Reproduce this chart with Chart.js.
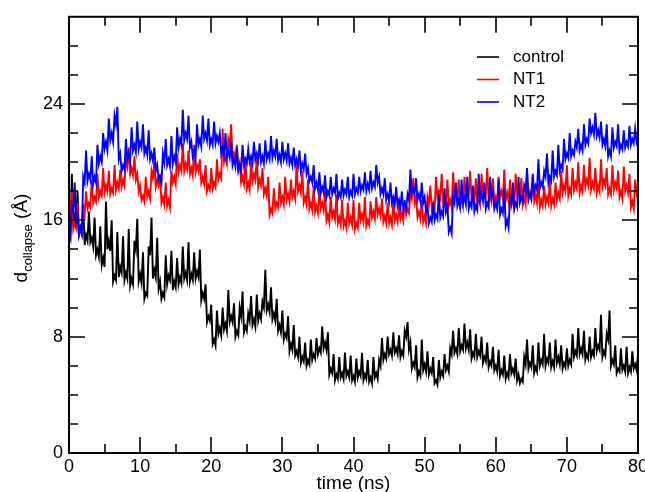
<!DOCTYPE html>
<html>
<head>
<meta charset="utf-8">
<script src="https://cdn.jsdelivr.net/npm/chart.js@4.4.0/dist/chart.umd.min.js"></script>
<style>
  body { margin: 0; background: #fff; }
  #wrap { width: 645px; height: 492px; }
</style>
</head>
<body>
<div id="wrap"><canvas id="myChart" width="645" height="492"></canvas></div>
<script>
// sampled every 0.2 ns, 0 .. 80 ns (one row = 4 ns)
const timeStep = 0.2

const controlValues = [
  15.2, 14.8, 19.2, 15.6, 16.3, 15.9, 18.0, 14.9, 15.5, 15.1, 17.1, 14.3, 15.0, 14.6, 16.6, 14.5, 14.8, 14.2, 16.2, 13.6,
  14.0, 13.5, 15.6, 12.9, 13.4, 12.8, 17.3, 14.0, 14.6, 13.9, 16.0, 11.8, 12.2, 11.9, 15.2, 12.1, 12.8, 12.4, 14.9, 11.9,
  12.4, 12.0, 15.4, 11.5, 12.0, 11.6, 14.6, 14.0, 16.1, 11.8, 12.3, 11.7, 13.8, 10.6, 11.0, 10.8, 14.2, 13.6, 16.2, 12.0,
  12.6, 12.1, 14.8, 11.3, 11.8, 10.6, 11.0, 10.7, 13.6, 11.6, 12.2, 11.9, 13.9, 11.2, 11.8, 11.4, 13.4, 11.6, 12.1, 11.7,
  14.2, 12.0, 12.4, 11.9, 14.5, 11.8, 12.3, 11.9, 13.8, 12.0, 12.5, 12.1, 14.0, 10.5, 11.0, 10.6, 11.6, 9.0, 9.4, 9.1,
  10.2, 7.5, 7.8, 7.4, 9.8, 8.2, 8.6, 8.1, 10.0, 8.5, 8.9, 8.4, 11.2, 9.0, 9.4, 9.0, 10.3, 8.0, 8.4, 8.1,
  10.0, 9.4, 11.1, 8.3, 8.7, 8.4, 9.6, 9.1, 10.8, 8.8, 9.2, 8.7, 10.9, 9.1, 9.6, 9.2, 10.4, 10.0, 12.6, 9.8,
  10.2, 9.7, 11.4, 9.2, 9.6, 9.1, 10.6, 8.4, 8.8, 8.3, 9.8, 7.8, 8.2, 7.9, 9.4, 7.0, 7.5, 7.1, 8.8, 6.7,
  7.0, 6.6, 8.0, 6.2, 6.6, 6.3, 7.6, 6.0, 6.4, 6.1, 7.8, 6.4, 6.8, 6.5, 7.9, 6.8, 7.2, 6.9, 8.7, 7.2,
  7.6, 7.1, 8.3, 5.4, 5.8, 5.5, 6.8, 5.0, 5.4, 5.1, 6.6, 5.2, 5.5, 5.1, 6.9, 5.3, 5.6, 5.2, 6.7, 5.0,
  5.3, 4.9, 6.5, 5.2, 5.6, 5.3, 6.9, 5.0, 5.4, 5.1, 6.4, 4.9, 5.2, 4.8, 6.6, 5.2, 5.5, 5.1, 6.4, 6.0,
  7.9, 6.4, 6.8, 6.5, 8.0, 6.8, 7.1, 6.7, 8.3, 6.9, 7.2, 6.8, 8.1, 6.6, 7.0, 6.7, 8.4, 8.0, 9.0, 7.1,
  7.6, 5.8, 6.2, 5.9, 7.4, 5.2, 5.6, 5.3, 7.8, 5.7, 6.1, 5.6, 7.0, 5.4, 5.8, 5.5, 6.6, 4.8, 5.0, 4.7,
  6.4, 5.2, 5.6, 5.3, 6.8, 5.7, 6.0, 5.6, 7.2, 6.8, 8.4, 6.9, 7.2, 6.8, 8.6, 7.0, 7.4, 7.1, 8.9, 7.2,
  7.6, 7.1, 8.5, 6.5, 6.9, 6.6, 8.2, 6.6, 7.0, 6.7, 8.0, 6.2, 6.6, 6.3, 7.6, 5.9, 6.3, 6.0, 7.3, 5.7,
  6.0, 5.6, 7.1, 5.3, 5.7, 5.4, 6.7, 5.1, 5.5, 5.2, 6.8, 5.5, 5.8, 5.4, 6.5, 5.0, 5.4, 4.8, 5.1, 4.9,
  6.6, 6.1, 7.8, 5.8, 6.2, 5.9, 7.4, 5.5, 5.9, 5.6, 7.6, 6.0, 6.4, 6.1, 8.2, 6.0, 6.5, 6.2, 7.6, 5.9,
  6.3, 5.9, 7.8, 6.2, 6.6, 6.1, 7.4, 5.8, 6.2, 5.9, 7.2, 6.0, 6.4, 6.1, 8.2, 6.6, 7.0, 6.7, 8.6, 6.8,
  7.2, 6.8, 8.4, 6.4, 6.8, 6.5, 8.0, 6.6, 7.0, 6.7, 8.6, 7.0, 7.4, 7.1, 9.5, 6.6, 7.0, 6.7, 8.2, 7.8,
  9.8, 6.0, 6.4, 6.1, 7.4, 5.5, 5.8, 5.6, 7.2, 5.7, 6.0, 5.6, 7.3, 5.5, 5.9, 5.6, 7.0, 5.8, 6.1, 5.7,
  6.8
]

const nt1Values = [
  16.2, 15.8, 18.0, 15.4, 15.8, 15.5, 17.2, 15.0, 15.4, 15.1, 16.8, 16.4, 18.0, 16.8, 17.2, 16.9, 18.8, 17.2, 17.6, 17.3,
  19.2, 17.6, 18.0, 17.7, 19.6, 17.9, 18.4, 18.0, 19.4, 17.8, 18.2, 17.9, 19.8, 18.1, 18.6, 18.2, 19.5, 18.3, 18.8, 18.4,
  20.2, 19.7, 21.0, 19.2, 19.6, 19.1, 20.4, 18.8, 19.2, 18.0, 18.4, 17.4, 17.7, 17.3, 19.0, 17.6, 18.0, 17.5, 19.4, 18.9,
  20.0, 18.3, 18.8, 18.4, 19.2, 17.2, 17.6, 17.1, 18.6, 17.0, 17.4, 16.9, 19.4, 18.6, 19.0, 18.5, 20.6, 19.3, 19.8, 19.4,
  21.3, 19.4, 19.9, 19.5, 20.8, 19.2, 19.6, 19.1, 21.2, 19.3, 19.8, 19.4, 20.2, 18.6, 19.0, 18.5, 19.8, 18.0, 18.4, 18.1,
  19.6, 18.2, 18.6, 18.3, 20.2, 18.8, 19.2, 18.9, 22.3, 20.0, 20.4, 19.9, 21.6, 21.1, 22.6, 20.2, 20.6, 20.1, 21.2, 19.6,
  20.0, 18.6, 19.0, 18.5, 20.4, 18.2, 18.6, 18.1, 20.0, 18.7, 19.2, 18.8, 20.3, 18.3, 18.8, 18.4, 19.6, 17.8, 18.2, 17.7,
  19.0, 16.4, 16.8, 16.5, 18.2, 16.8, 17.2, 16.9, 18.6, 17.2, 17.6, 17.1, 19.0, 17.4, 17.8, 17.3, 18.8, 17.6, 18.0, 17.5,
  19.9, 18.0, 18.4, 17.9, 19.4, 17.2, 17.6, 17.1, 18.8, 16.8, 17.2, 16.7, 18.4, 16.6, 17.0, 16.5, 18.2, 16.8, 17.2, 16.7,
  18.0, 16.0, 16.4, 15.9, 17.6, 16.2, 16.6, 16.1, 17.8, 15.8, 16.2, 15.7, 17.4, 15.6, 16.0, 15.5, 17.2, 15.8, 16.2, 15.7,
  17.4, 15.4, 15.8, 15.5, 17.2, 16.0, 16.4, 15.9, 17.6, 15.6, 16.0, 15.7, 17.3, 16.2, 16.6, 16.1, 17.6, 16.4, 16.8, 16.3,
  17.5, 15.9, 16.3, 15.8, 17.2, 15.8, 16.2, 15.7, 17.4, 16.0, 16.4, 15.9, 17.0, 16.1, 16.5, 16.0, 17.4, 16.4, 16.8, 16.5,
  18.0, 17.5, 18.9, 17.2, 17.6, 16.2, 16.6, 16.1, 17.4, 15.9, 16.3, 15.8, 17.6, 17.1, 18.4, 16.8, 17.2, 16.7, 19.0, 17.6,
  18.0, 17.6, 19.2, 17.2, 17.6, 17.1, 18.8, 17.0, 17.4, 16.9, 19.3, 17.6, 18.0, 17.5, 18.8, 17.1, 17.5, 17.0, 19.0, 17.8,
  18.2, 17.7, 19.4, 17.4, 17.8, 17.3, 18.9, 17.2, 17.6, 17.1, 19.2, 17.8, 18.2, 17.7, 19.6, 17.4, 17.8, 17.3, 18.9, 17.2,
  17.6, 17.2, 19.0, 17.6, 18.0, 17.5, 19.5, 17.4, 17.9, 17.3, 18.8, 17.0, 17.4, 16.9, 19.2, 17.8, 18.2, 17.7, 18.9, 17.1,
  17.6, 17.1, 19.3, 17.6, 18.0, 17.5, 19.0, 17.3, 17.8, 17.2, 18.6, 16.9, 17.4, 17.0, 18.4, 17.1, 17.6, 17.2, 18.8, 17.0,
  17.5, 17.1, 18.6, 17.4, 17.9, 17.5, 19.4, 17.9, 18.4, 18.0, 19.8, 17.7, 18.2, 17.8, 19.6, 18.1, 18.6, 18.2, 20.0, 17.9,
  18.4, 18.0, 19.8, 18.3, 18.8, 18.4, 20.3, 18.1, 18.6, 18.2, 19.6, 17.9, 18.4, 18.0, 20.2, 18.3, 18.8, 18.4, 19.6, 17.8,
  18.2, 17.8, 19.8, 18.1, 18.6, 18.2, 19.4, 17.6, 18.0, 17.5, 19.7, 18.0, 18.4, 17.9, 19.2, 16.9, 17.3, 16.8, 18.8, 17.9,
  18.4
]

const nt2Values = [
  15.4, 15.0, 17.0, 16.6, 18.6, 15.9, 16.4, 15.0, 15.5, 15.1, 19.0, 18.6, 20.8, 18.7, 19.2, 18.8, 20.4, 18.5, 19.0, 18.6,
  21.2, 19.9, 20.4, 20.0, 22.0, 20.9, 21.4, 20.8, 23.0, 21.5, 22.0, 21.4, 23.2, 22.6, 23.8, 20.2, 20.6, 19.4, 19.8, 19.5,
  21.6, 20.2, 20.6, 20.1, 22.4, 20.8, 21.2, 20.7, 22.8, 20.9, 21.4, 21.0, 22.6, 20.6, 21.0, 20.5, 22.2, 20.2, 20.6, 20.1,
  21.0, 19.4, 19.8, 18.8, 19.0, 18.6, 20.6, 20.0, 21.6, 19.8, 20.2, 19.7, 21.8, 19.9, 20.4, 20.0, 22.4, 21.0, 21.6, 21.2,
  23.6, 21.5, 22.0, 21.6, 23.2, 21.0, 21.4, 20.4, 20.8, 20.3, 22.6, 21.2, 21.6, 21.1, 23.2, 21.6, 22.0, 21.5, 23.0, 21.2,
  21.6, 21.2, 22.8, 21.3, 21.8, 21.4, 22.0, 20.6, 21.0, 20.5, 22.0, 20.4, 20.8, 20.3, 21.4, 19.8, 20.2, 19.7, 21.0, 19.4,
  19.8, 19.4, 21.2, 19.8, 20.2, 19.9, 20.9, 20.0, 20.4, 19.9, 21.4, 20.2, 20.6, 20.1, 21.3, 20.0, 20.4, 19.9, 21.5, 20.2,
  20.6, 20.2, 21.8, 20.3, 20.8, 20.4, 21.6, 20.1, 20.5, 20.0, 21.4, 20.2, 20.6, 20.1, 21.3, 19.9, 20.3, 19.8, 21.0, 19.8,
  20.2, 19.7, 20.8, 19.4, 19.9, 19.5, 20.6, 19.2, 19.6, 18.7, 19.0, 18.6, 19.8, 18.2, 18.6, 18.1, 19.3, 17.9, 18.3, 17.9,
  19.1, 17.6, 18.0, 17.7, 19.0, 17.8, 18.2, 17.9, 19.2, 17.5, 17.9, 17.6, 18.8, 17.7, 18.1, 17.8, 19.0, 17.6, 18.0, 17.7,
  19.2, 17.8, 18.2, 17.9, 19.0, 18.0, 18.4, 18.1, 19.3, 18.0, 18.5, 18.1, 19.4, 18.2, 18.6, 18.3, 19.8, 18.6, 19.0, 17.8,
  18.2, 17.8, 18.9, 17.4, 17.8, 17.3, 18.6, 17.2, 17.6, 17.1, 18.3, 17.0, 17.4, 16.9, 18.0, 16.8, 17.2, 16.8, 17.8, 17.4,
  19.5, 17.8, 18.2, 17.9, 18.9, 17.4, 17.8, 17.3, 18.6, 17.2, 17.6, 16.6, 17.0, 15.8, 16.2, 15.9, 17.2, 16.0, 16.4, 16.1,
  17.8, 16.2, 16.6, 16.3, 18.2, 16.6, 17.0, 15.2, 15.5, 15.1, 17.6, 17.2, 18.6, 17.0, 17.4, 16.9, 18.8, 17.2, 17.6, 17.1,
  19.0, 16.8, 17.2, 16.9, 18.4, 16.6, 17.0, 16.7, 19.2, 17.4, 17.8, 17.3, 18.6, 16.8, 17.2, 16.9, 19.0, 17.6, 18.0, 16.8,
  17.2, 16.8, 18.8, 16.4, 16.8, 16.5, 18.2, 15.6, 16.0, 15.5, 17.6, 17.2, 18.6, 16.8, 17.2, 16.9, 19.0, 17.2, 17.6, 17.3,
  18.4, 18.0, 19.6, 17.4, 17.8, 17.5, 19.2, 18.0, 18.4, 18.1, 20.2, 18.2, 18.6, 18.3, 19.4, 19.0, 20.6, 18.6, 19.0, 18.7,
  20.8, 19.0, 19.4, 19.1, 21.2, 19.4, 19.8, 19.5, 21.6, 20.2, 20.6, 20.3, 22.0, 20.4, 20.8, 20.5, 21.4, 21.0, 22.3, 20.8,
  21.2, 20.8, 22.6, 21.2, 21.6, 21.3, 23.0, 22.0, 22.4, 21.9, 23.4, 21.8, 22.2, 21.7, 22.8, 21.2, 21.6, 21.1, 22.6, 20.4,
  20.8, 20.4, 22.4, 21.0, 21.4, 21.1, 22.6, 20.8, 21.2, 20.9, 22.2, 21.0, 21.4, 21.1, 22.5, 21.2, 21.6, 21.3, 22.3, 21.4,
  21.8
]

const seriesNames = ['control', 'NT1', 'NT2']
const seriesColors = ['#000000', '#ff0000', '#0000ff']

const xLabelTicks = [0, 10, 20, 30, 40, 50, 60, 70, 80]
const xMinorTicks = [5, 15, 25, 35, 45, 55, 65, 75]
const yLabelTicks = [0, 8, 16, 24]
const yMinorTicks = [2, 4, 6, 10, 12, 14, 18, 20, 22, 26, 28]

const toPoints = vals => vals.map((v, i) => ({x: +(i * timeStep).toFixed(1), y: v}))

const framePlugin = {
    id: 'frame',
    afterDraw(chart){
        const {ctx, chartArea: a, scales} = chart
        const xs = scales.x, ys = scales.y
        ctx.save()
        ctx.strokeStyle = '#000'
        ctx.lineWidth = 2
        ctx.strokeRect(a.left, a.top, a.right - a.left, a.bottom - a.top)

        const tick = (len, vals, horiz) => {
            vals.forEach(v => {
                ctx.beginPath()
                if(horiz){
                    const px = Math.round(xs.getPixelForValue(v))
                    ctx.moveTo(px, a.bottom); ctx.lineTo(px, a.bottom - len)
                    ctx.moveTo(px, a.top); ctx.lineTo(px, a.top + len)
                } else {
                    const py = Math.round(ys.getPixelForValue(v))
                    ctx.moveTo(a.left, py); ctx.lineTo(a.left + len, py)
                    ctx.moveTo(a.right, py); ctx.lineTo(a.right - len, py)
                }
                ctx.stroke()
            })
        }
        ctx.lineWidth = 1.6
        tick(16, xLabelTicks, true)
        tick(9, xMinorTicks, true)
        tick(16, yLabelTicks, false)
        tick(9, yMinorTicks, false)

        // axis titles
        ctx.fillStyle = '#000'
        ctx.font = '19px "Liberation Sans", Arial, sans-serif'
        ctx.textAlign = 'center'
        ctx.textBaseline = 'alphabetic'
        ctx.fillText('time (ns)', (a.left + a.right) / 2, 489)

        ctx.save()
        ctx.translate(27, 238)
        ctx.rotate(-Math.PI / 2)
        ctx.textAlign = 'left'
        const big = '19px "Liberation Sans", Arial, sans-serif'
        const small = '13px "Liberation Sans", Arial, sans-serif'
        ctx.font = big
        const wD = ctx.measureText('d').width
        const wU = ctx.measureText(' (Å)').width
        ctx.font = small
        const wS = ctx.measureText('collapse').width
        let x0 = -(wD + wS + wU) / 2
        ctx.font = big
        ctx.fillText('d', x0, 0)
        ctx.font = small
        ctx.fillText('collapse', x0 + wD, 5)
        ctx.font = big
        ctx.fillText(' (Å)', x0 + wD + wS, 0)
        ctx.restore()

        // legend
        ctx.font = '17px "Liberation Sans", Arial, sans-serif'
        ctx.textAlign = 'left'
        ctx.textBaseline = 'middle'
        seriesNames.forEach((name, i) => {
            const y = 57 + i * 22.5
            ctx.strokeStyle = seriesColors[i]
            ctx.lineWidth = 1.6
            ctx.beginPath()
            ctx.moveTo(477, y); ctx.lineTo(499, y)
            ctx.stroke()
            ctx.fillStyle = '#000'
            ctx.fillText(name, 513, y)
        })
        ctx.restore()
    }
}

const allValues = [controlValues, nt1Values, nt2Values]
// blue drawn over red, red over black
const drawOrder = [2, 1, 0]
const datasets = allValues.map((vals, ind) => ({
    label: seriesNames[ind],
    data: toPoints(vals),
    borderColor: seriesColors[ind],
    borderWidth: 1.9,
    pointRadius: 0,
    tension: 0,
    fill: false,
    order: drawOrder[ind],
}))

const tickFont = {family: '"Liberation Sans", Arial, sans-serif', size: 18}

new Chart(document.getElementById('myChart').getContext('2d'), {
    type: 'line',
    data: {datasets},
    plugins: [framePlugin],
    options: {
        responsive: false,
        animation: false,
        layout: {padding: {top: 15, right: 7, left: 0, bottom: 0}},
        plugins: {legend: {display: false}, tooltip: {enabled: false}},
        scales: {
            x: {
                type: 'linear',
                min: 0,
                max: 80,
                afterBuildTicks: s => { s.ticks = xLabelTicks.map(v => ({value: v})) },
                afterFit: s => { s.height = 39; s.paddingRight = 0 },
                grid: {drawOnChartArea: false, drawTicks: false},
                border: {display: false},
                ticks: {color: '#000', font: tickFont, padding: 3, maxRotation: 0, autoSkip: false},
            },
            y: {
                min: 0,
                max: 30,
                afterBuildTicks: s => { s.ticks = yLabelTicks.map(v => ({value: v})) },
                afterFit: s => { s.width = 69 },
                grid: {drawOnChartArea: false, drawTicks: false},
                border: {display: false},
                ticks: {color: '#000', font: tickFont, padding: 6},
            },
        },
    },
})
</script>
</body>
</html>
